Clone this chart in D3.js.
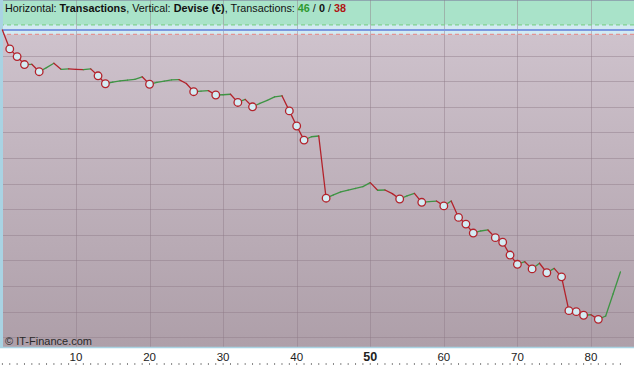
<!DOCTYPE html>
<html><head><meta charset="utf-8">
<script src="https://cdn.jsdelivr.net/npm/d3@7"></script>
<style>body{margin:0;background:#fff;}svg{display:block;font-family:"Liberation Sans",Arial,sans-serif;}</style>
</head><body>
<div id="chart"></div>
<script>
// Equity (€) after each transaction (index 0 = start)
const equity = [0,-74,-104,-135,-134,-163,-147,-130,-154,-152,
 -154,-155,-152,-179,-210,-204,-199,-196,-193,-183,
 -212,-205,-200,-195,-194,-209,-241,-239,-237,-254,
 -253,-251,-283,-271,-300,-287,-275,-261,-257,-316,
 -375,-430,-417,-414,-657,-644,-632,-625,-619,-612,
 -596,-626,-625,-639,-660,-648,-638,-673,-670,-668,
 -687,-668,-732,-758,-793,-785,-781,-811,-829,-879,
 -915,-905,-933,-911,-948,-931,-964,-1096,-1100,-1114,
 -1112,-1130,-1117,-1031,-945];
const xTicks = [10,20,30,40,50,60,70,80];
const gains = 46, neutral = 0, losses = 38;
const upperBand = 20, lowerBand = -17;

const W = 634, H = 365;
const svg = d3.select("#chart").append("svg").attr("width", W).attr("height", H);
const x = d3.scaleLinear().domain([0, 84]).range([2.4, 620.4]);
const y = d3.scaleLinear().domain([117, -1238]).range([0, 347]);
const plotBottom = 347;

const defs = svg.append("defs");
const grad = defs.append("linearGradient").attr("id","mauve").attr("x1",0).attr("y1",0).attr("x2",0).attr("y2",1);
grad.append("stop").attr("offset","0%").attr("stop-color","#cec2cc");
grad.append("stop").attr("offset","100%").attr("stop-color","#ae9fa9");

// backgrounds
svg.append("rect").attr("x",0).attr("y",0).attr("width",W).attr("height",H).attr("fill","#fff");
svg.append("rect").attr("x",0).attr("y",0).attr("width",W).attr("height",y(upperBand)).attr("fill","#a9e3c9");
svg.append("rect").attr("x",0).attr("y",y(upperBand)).attr("width",W).attr("height",y(lowerBand)-y(upperBand)).attr("fill","#d2eaf2");
svg.append("rect").attr("x",0).attr("y",y(lowerBand)).attr("width",W).attr("height",plotBottom-y(lowerBand)).attr("fill","url(#mauve)");
svg.append("line").attr("x1",0).attr("x2",W).attr("y1",0.5).attr("y2",0.5).attr("stroke","#8fa9b0");

// grid
const hGrid = d3.range(-100, -1201, -100);
svg.append("g").selectAll("line").data(hGrid).join("line")
  .attr("x1",0).attr("x2",W).attr("y1",d=>Math.round(y(d))+0.5).attr("y2",d=>Math.round(y(d))+0.5)
  .attr("stroke","#8e7a88").attr("stroke-opacity",0.45).attr("stroke-width",1);
svg.append("g").selectAll("line").data(xTicks).join("line")
  .attr("x1",d=>Math.round(x(d))+0.5).attr("x2",d=>Math.round(x(d))+0.5).attr("y1",0).attr("y2",plotBottom)
  .attr("stroke","#8e7a88").attr("stroke-opacity",0.45).attr("stroke-width",1);

// band lines
svg.append("line").attr("x1",0).attr("x2",W).attr("y1",y(upperBand)).attr("y2",y(upperBand))
  .attr("stroke","#7fd08f").attr("stroke-width",1.2).attr("stroke-dasharray","4,3");
svg.append("line").attr("x1",0).attr("x2",W).attr("y1",y(lowerBand)).attr("y2",y(lowerBand))
  .attr("stroke","#e29494").attr("stroke-width",1.2).attr("stroke-dasharray","4,3");
svg.append("line").attr("x1",0).attr("x2",W).attr("y1",y(0)).attr("y2",y(0))
  .attr("stroke","#7b98e0").attr("stroke-width",2);

// left bar and bottom axis line
svg.append("rect").attr("x",0).attr("y",0).attr("width",3).attr("height",plotBottom+1).attr("fill","#a9d3e3");
svg.append("line").attr("x1",0).attr("x2",W).attr("y1",plotBottom+0.5).attr("y2",plotBottom+0.5).attr("stroke","#a9d3e3").attr("stroke-width",1.5);

// axis labels
svg.append("g").selectAll("text").data(xTicks).join("text")
  .attr("x",d=>x(d)).attr("y",361).attr("text-anchor","middle")
  .attr("font-size", d=>d===50?12.5:11.5).attr("font-weight",d=>d===50?"bold":"normal")
  .attr("fill","#222").text(d=>d);
// minor ticks
svg.append("g").selectAll("line").data(d3.range(0,85)).join("line")
  .attr("x1",d=>x(d)).attr("x2",d=>x(d)).attr("y1",363).attr("y2",365)
  .attr("stroke","#888").attr("stroke-width",1);

// copyright
svg.append("text").attr("x",5).attr("y",345).attr("font-size",11).attr("fill","#2a2a2a").text("© IT-Finance.com");

// segments
const segs = d3.range(1, equity.length).map(i => ({i0:i-1, i1:i, up: equity[i] >= equity[i-1]}));
svg.append("g").selectAll("line").data(segs).join("line")
  .attr("x1",d=>x(d.i0)).attr("y1",d=>y(equity[d.i0]))
  .attr("x2",d=>x(d.i1)).attr("y2",d=>y(equity[d.i1]))
  .attr("stroke",d=>d.up?"#3e9444":"#b3222b").attr("stroke-width",1.3).attr("stroke-linecap","round");

// new-low markers
let runMin = equity[0];
const lows = [];
equity.forEach((v,i)=>{ if(i>0 && v < runMin){ lows.push(i); } runMin = Math.min(runMin, v); });
svg.append("g").selectAll("circle").data(lows).join("circle")
  .attr("cx",d=>x(d)).attr("cy",d=>y(equity[d])).attr("r",3.8)
  .attr("fill","#d4ecf3").attr("stroke","#b3222b").attr("stroke-width",1.3);

// header
const hdr = svg.append("text").attr("x",5).attr("y",11.5).attr("font-size",10.8).attr("fill","#111");
hdr.append("tspan").text("Horizontal: ");
hdr.append("tspan").attr("font-weight","bold").text("Transactions");
hdr.append("tspan").text(", Vertical: ");
hdr.append("tspan").attr("font-weight","bold").text("Devise (€)");
hdr.append("tspan").text(", Transactions: ");
hdr.append("tspan").attr("font-weight","bold").attr("fill","#2f9a2f").text(gains);
hdr.append("tspan").text(" / ");
hdr.append("tspan").attr("font-weight","bold").text(neutral);
hdr.append("tspan").text(" / ");
hdr.append("tspan").attr("font-weight","bold").attr("fill","#b01414").text(losses);
</script>
</body></html>
